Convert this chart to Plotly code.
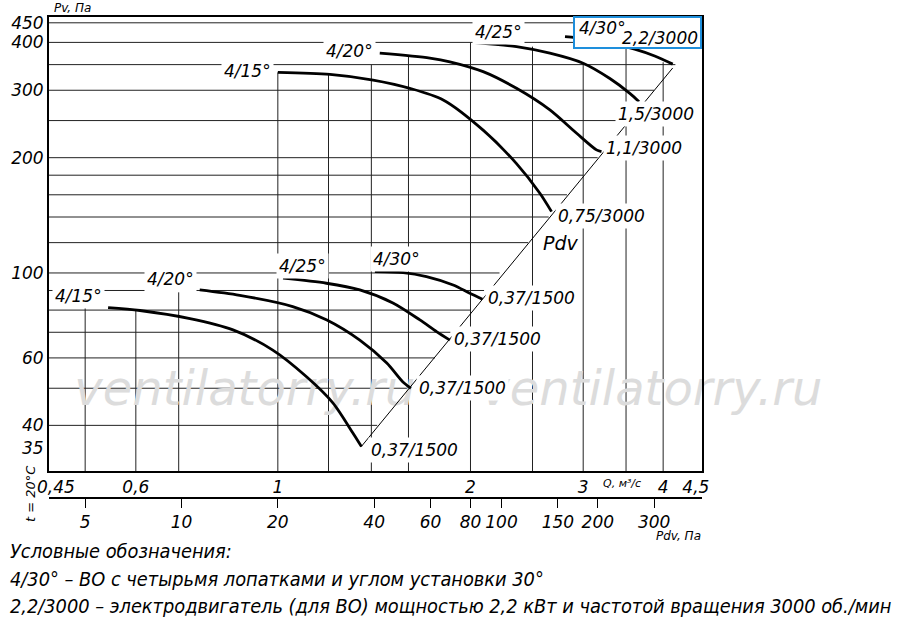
import numpy as np
import plotly.graph_objects as go

# ---- values (Q in m3/s, Pv in Pa) ----
# 3000 rpm curves
q_15_hi = [1.0, 1.206, 1.409, 1.608, 1.813, 2.093, 2.36, 2.567, 2.677]
pv_15_hi = [334, 330, 319, 303.5, 283, 236, 193, 161.5, 144.6]
q_20_hi = [1.443, 1.728, 1.857, 2.093, 2.36, 2.661, 2.93, 3.147, 3.204]
pv_20_hi = [375, 364, 356, 335.5, 303.5, 266.6, 231.6, 209.6, 207.4]
q_25_hi = [2.032, 2.36, 2.661, 2.999, 3.302, 3.548, 3.668]
pv_25_hi = [399.5, 390, 375, 353, 322, 294.5, 280]
q_30_hi = [2.81, 3.2, 3.61, 3.88, 4.14]
pv_30_hi = [414, 404, 384, 368.6, 351]

# 1500 rpm curves
q_15_lo = [0.543, 0.609, 0.729, 0.851, 0.982, 1.11, 1.219, 1.31, 1.351]
pv_15_lo = [81.2, 79.8, 76.0, 71.0, 62.9, 53.5, 45.8, 38.2, 35.2]
q_20_lo = [0.755, 0.872, 1.055, 1.193, 1.343, 1.48, 1.567, 1.614]
pv_20_lo = [90.3, 87.4, 81.7, 75.4, 66.8, 58.2, 52.0, 50.0]
q_25_lo = [1.019, 1.191, 1.343, 1.513, 1.667, 1.77, 1.857]
pv_25_lo = [96.9, 94.0, 90.3, 83.5, 75.4, 70.3, 66.8]
q_30_lo = [1.418, 1.57, 1.707, 1.879, 1.995, 2.088]
pv_30_lo = [100.8, 100.2, 97.8, 93.0, 88.5, 85.4]

# dynamic pressure line (Pdv) end points
q_pdv = [1.35, 4.14]
pv_pdv = [35.2, 343]

# grid: vertical lines (Q) and where they start at the top (Pv)
grid_q = [0.5, 0.6, 0.7, 1.0, 1.2, 1.4, 1.6, 2.0, 2.5, 3.0, 3.5, 4.0]
grid_q_top = [81, 80, 89, 334, 330, 350, 367, 400, 390, 352, 388, 355]
# horizontal lines (Pv) and where they stop on the right (Q)
grid_pv = [40, 50, 60, 70, 80, 90, 100, 120, 140, 160, 180, 200, 250, 300, 350, 400, 450]
grid_pv_end = [1.43, 1.6, 1.76, 1.86, 2.0, 2.1, 2.22, 2.46, 2.65, 2.83, 3.0, 3.16, 3.54, 3.87, 4.18, 4.47, 4.6]

# axis ticks
q_ticks = [0.45, 0.6, 1, 2, 3, 4, 4.5]
q_ticktext = ['0,45', '0,6', '1', '2', '3', '4', '4,5']
pv_ticks = [35, 40, 60, 100, 200, 300, 400, 450]
pdv_ticks = [5, 10, 20, 40, 60, 80, 100, 150, 200, 300]

# curve labels: text, Q, Pv
labels = [
    ('4/15°', 0.898, 337), ('4/20°', 1.296, 380), ('4/25°', 2.215, 426),
    ('1,5/3000', 3.898, 260), ('1,1/3000', 3.74, 212), ('0,75/3000', 3.209, 140.9),
    ('4/15°', 0.489, 87.1), ('4/20°', 0.68, 96.5), ('4/25°', 1.094, 104.3), ('4/30°', 1.534, 108.8),
    ('0,37/1500', 2.49, 86.1), ('0,37/1500', 2.206, 67.3), ('0,37/1500', 1.94, 50.1),
    ('0,37/1500', 1.637, 34.5),
]

# watermark text positions (Q, Pv)
wm_q = [0.888, 3.84]
wm_pv = [48.6, 48.6]

Q_MIN, Q_MAX = 0.439, 4.6
PV_MIN, PV_MAX = 30.4, 466

FONT = 'DejaVu Sans'
ML, MR, MT, MB = 49, 198, 17, 10
W, H = 900, 624
PW, PH = W - ML - MR, H - MT - MB


def px(x):
    return (x - ML) / PW


def py(y):
    return (H - MB - y) / PH


def paper_note(text, x, y, size, xanchor='center', family=FONT, color='black', **kw):
    return dict(x=px(x), y=py(y), xref='paper', yref='paper', text=text, showarrow=False,
                xanchor=xanchor, yanchor='middle',
                font=dict(family=family, size=size, style='italic', color=color), **kw)


fig = go.Figure()

# grid lines
gx, gy = [], []
for q, top in zip(grid_q, grid_q_top):
    gx += [q, q, None]
    gy += [PV_MIN, top, None]
for pv, end in zip(grid_pv, grid_pv_end):
    gx += [Q_MIN, end, None]
    gy += [pv, pv, None]
fig.add_trace(go.Scatter(x=gx, y=gy, mode='lines', line=dict(color='#222', width=1),
                         hoverinfo='skip', showlegend=False))

# watermark, under the curves
fig.add_trace(go.Scatter(x=wm_q, y=wm_pv, mode='text', text=['ventilatorry.ru'] * 2,
                         textposition='middle center', cliponaxis=False,
                         textfont=dict(family=FONT, size=48, style='italic', color='#dcdcdc'),
                         hoverinfo='skip', showlegend=False))

# Pdv line
fig.add_trace(go.Scatter(x=q_pdv, y=pv_pdv, mode='lines', line=dict(color='black', width=1),
                         hoverinfo='skip', showlegend=False))

# fan curves
for q, pv in [(q_15_hi, pv_15_hi), (q_20_hi, pv_20_hi), (q_25_hi, pv_25_hi), (q_30_hi, pv_30_hi),
              (q_15_lo, pv_15_lo), (q_20_lo, pv_20_lo), (q_25_lo, pv_25_lo), (q_30_lo, pv_30_lo)]:
    fig.add_trace(go.Scatter(x=q, y=pv, mode='lines',
                             line=dict(color='black', width=2.8, shape='spline', smoothing=0.8),
                             hoverinfo='skip', showlegend=False))

# dummy trace so the Pdv axis is drawn
fig.add_trace(go.Scatter(x=[5, 300], y=[None, None], xaxis='x2', mode='lines',
                         showlegend=False, hoverinfo='skip'))

ann = []
for text, q, pv in labels:
    ann.append(dict(x=np.log10(q), y=np.log10(pv), xref='x', yref='y', text=text, showarrow=False,
                    xanchor='center', yanchor='middle',
                    font=dict(family=FONT, size=17, style='italic', color='black'),
                    bgcolor='white', borderpad=2))
ann.append(dict(x=np.log10(2.77), y=np.log10(119.8), xref='x', yref='y', text='Pdv', showarrow=False,
                xanchor='center', yanchor='middle',
                font=dict(family=FONT, size=19, style='italic', color='black'), bgcolor='white'))

# labels inside the blue box
ann.append(paper_note('4/30°', 602, 28, 17))
ann.append(paper_note('2,2/3000', 660, 38, 17))

# axis captions
ann.append(paper_note('Pv, Па', 52, 8, 12, xanchor='left'))
ann.append(paper_note('Q, м³/с', 622, 483, 11))
ann.append(paper_note('Pdv, Па', 678, 536, 12))
ann.append(paper_note('t = 20°C', 30, 494, 13, textangle=-90))

# legend text
legend_lines = [
    'Условные обозначения:',
    '4/30° – ВО с четырьмя лопатками и углом установки 30°',
    '2,2/3000 – электродвигатель (для ВО) мощностью 2,2 кВт и частотой вращения 3000 об./мин',
]
for text, yy in zip(legend_lines, [551, 579, 606]):
    ann.append(paper_note(text, 8, yy, 19.8, xanchor='left', family='DejaVu Sans Condensed'))

tick_font = dict(family=FONT, size=17, style='italic', color='black')

fig.update_layout(
    width=W, height=H,
    margin=dict(l=ML, r=MR, t=MT, b=MB),
    plot_bgcolor='white', paper_bgcolor='white',
    showlegend=False,
    xaxis=dict(type='log', range=[np.log10(Q_MIN), np.log10(Q_MAX)], automargin=False,
               tickvals=q_ticks, ticktext=q_ticktext, showgrid=False, zeroline=False,
               showline=True, linewidth=2, linecolor='black', mirror=True, ticks='',
               tickfont=tick_font),
    xaxis2=dict(type='log', overlaying='x', anchor='free', position=py(498), side='bottom',
                range=[np.log10(20 * Q_MIN ** 2), np.log10(20 * Q_MAX ** 2)], automargin=False,
                tickvals=pdv_ticks, ticktext=[str(v) for v in pdv_ticks], showgrid=False,
                zeroline=False, showline=True, linewidth=2, linecolor='black',
                ticks='outside', ticklen=9, tickwidth=1, tickcolor='black',
                tickfont=tick_font),
    yaxis=dict(type='log', range=[np.log10(PV_MIN), np.log10(PV_MAX)], domain=[py(471), 1],
               automargin=False, tickvals=pv_ticks, ticktext=[str(v) for v in pv_ticks],
               showgrid=False, zeroline=False, showline=True, linewidth=2, linecolor='black',
               mirror=True, ticks='', tickfont=tick_font),
    shapes=[dict(type='rect', xref='paper', yref='paper', x0=px(574), x1=px(701), y0=py(48), y1=py(17),
                 line=dict(color='#1e8fdc', width=2), fillcolor='white', layer='above')],
    annotations=ann,
)

fig.write_html('out.html', config={'displayModeBar': False},
               post_script="document.body.style.margin='0';")
